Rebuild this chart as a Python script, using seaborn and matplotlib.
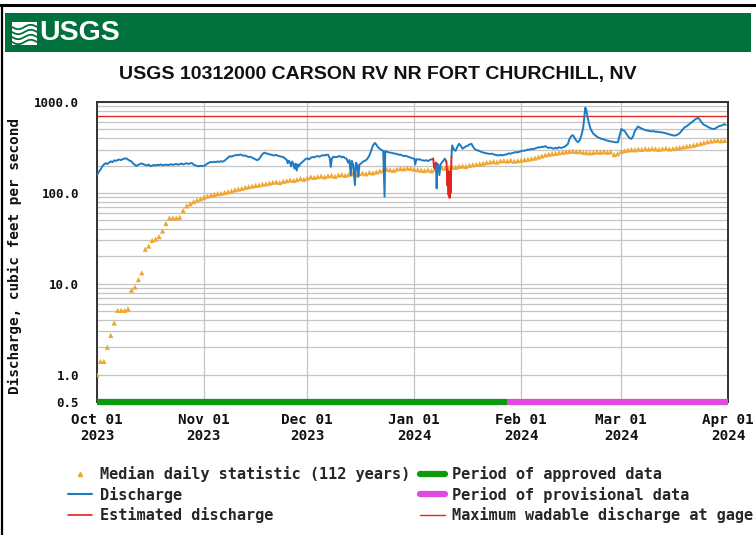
import numpy as np
import pandas as pd
import matplotlib
matplotlib.use("Agg")
import matplotlib.pyplot as plt
import matplotlib.dates as mdates
from matplotlib.lines import Line2D
from matplotlib.patches import Rectangle
from matplotlib.ticker import FixedLocator, NullFormatter
import seaborn as sns

# ---- data ----
start_date = "2023-10-01"
end_date = "2024-04-01"
station_title = "USGS 10312000 CARSON RV NR FORT CHURCHILL, NV"

# median daily statistic, one value per day from Oct 01
median_cfs = [
    # Oct
    1.0, 1.4, 1.4, 2.0, 2.7, 3.7, 5.1, 5.1, 5.1, 5.3,
    8.5, 9.2, 11.1, 13.2, 24, 26, 30, 31, 33, 38,
    46, 53, 53, 53, 54, 64, 72, 76, 80, 83, 86,
    # Nov
    89, 92, 94, 96, 98, 99, 101, 103, 105, 108,
    110, 112, 115, 117, 119, 121, 122, 125, 126, 128,
    131, 132, 130, 134, 136, 139, 137, 140, 144, 141,
    # Dec
    146, 150, 148, 151, 153, 150, 154, 156, 152, 157,
    159, 156, 160, 162, 158, 163, 165, 162, 168, 166,
    170, 174, 178, 182, 180, 177, 183, 186, 184, 188, 186,
    # Jan
    183, 180, 178, 176, 179, 175, 182, 186, 189, 187,
    190, 193, 191, 196, 198, 195, 201, 204, 206, 209,
    212, 216, 219, 222, 218, 225, 227, 224, 228, 223, 226,
    # Feb
    229, 232, 235, 238, 242, 248, 255, 262, 266, 270,
    272, 276, 280, 283, 286, 288, 284, 286, 280, 278,
    276, 279, 282, 280, 284, 281, 283, 264, 270,
    # Mar
    285, 292, 296, 300, 298, 303, 301, 306, 303, 308,
    305, 302, 306, 309, 304, 307, 312, 316, 320, 326,
    330, 335, 342, 350, 358, 366, 372, 376, 380, 374, 378,
]

# discharge (days after Oct 01, cfs)
discharge_day = [
    0.0, 0.5, 1.0, 1.5, 2.0, 2.5, 3.0, 3.5, 4.0, 4.5, 5.0, 5.5, 6.0, 6.5, 7.0, 7.5,
    8.0, 8.5, 9.0, 9.5, 10.0, 10.5, 11.0, 11.5, 12.0, 12.5, 13.0, 13.5, 14.0, 14.5,
    15.0, 15.5, 16.0, 16.5, 17.0, 17.5, 18.0, 18.5, 19.0, 19.5, 20.0, 20.5, 21.0,
    21.5, 22.0, 22.5, 23.0, 23.5, 24.0, 24.5, 25.0, 25.5, 26.0, 26.5, 27.0, 27.5,
    28.0, 28.5, 29.0, 29.5, 30.0, 30.5, 31.0, 31.5, 32.0, 32.5, 33.0, 33.5, 34.0,
    34.5, 35.0, 35.5, 36.0, 36.5, 37.0, 37.5, 38.0, 38.5, 39.0, 39.5, 40.0, 40.5,
    41.0, 41.5, 42.0, 42.5, 43.0, 43.5, 44.0, 44.5, 45.0, 45.5, 46.0, 46.5, 47.0,
    47.5, 48.0, 48.5, 49.0, 49.5, 50.0, 50.5, 51.0, 51.5, 52.0, 52.5, 53.0, 53.5,
    54.0, 54.5, 55.0, 55.3, 55.6, 56.0, 56.3, 56.6, 57.0, 57.3, 57.6, 57.9, 58.2,
    58.5, 59.0, 59.5, 60.0, 60.5, 61.0, 61.5, 62.0, 62.5, 63.0, 63.5, 64.0, 64.5,
    65.0, 65.5, 66.0, 66.5, 67.0, 67.5, 67.8, 68.1, 68.5, 69.0, 69.5, 70.0, 70.5,
    71.0, 71.5, 72.0, 72.4, 72.8, 73.2, 73.6, 73.9, 74.3, 74.8, 75.1, 75.5, 75.8,
    76.1, 76.5, 77.0, 77.5, 78.0, 78.5, 79.0, 79.5, 80.0, 80.6, 81.0, 81.5, 82.0,
    82.5, 83.0, 83.4, 83.6, 84.0, 84.5, 85.0, 85.5, 86.0, 86.5, 87.0, 87.5, 88.0,
    88.5, 89.0, 89.5, 90.0, 90.5, 91.0, 91.5, 92.0, 92.3, 92.6, 93.0, 93.5, 94.0,
    94.5, 95.0, 95.5, 96.0, 96.5, 97.0, 97.5,
    98.3, 98.5, 98.7, 99.0, 99.3, 99.6, 100.0, 100.5, 100.9, 101.2,
    102.8, 103.0, 103.5, 104.0, 104.5, 105.0, 105.5, 106.0, 106.5, 107.0, 107.5,
    108.0, 108.6, 109.0, 109.5, 110.0, 110.5, 111.0, 111.5, 112.0, 112.5, 113.0,
    113.5, 114.0, 114.5, 115.0, 115.5, 116.0, 116.5, 117.0, 117.5, 118.0, 118.5,
    119.0, 119.5, 120.0, 120.5, 121.0, 121.5, 122.0, 122.5, 123.0, 123.5, 124.0,
    124.5, 125.0, 125.5, 126.0, 126.5, 127.0, 127.5, 128.0, 128.5, 129.0, 129.5,
    130.0, 130.5, 131.0, 131.5, 132.0, 132.5, 133.0, 133.5, 134.0, 134.5, 135.0,
    135.5, 136.0, 136.6, 137.0, 137.5, 138.0, 138.5, 139.0, 139.5, 140.0, 140.5,
    141.0, 141.4, 141.6, 141.9, 142.2, 142.4, 142.8, 143.2, 143.6, 143.9, 144.5,
    145.0, 145.5, 146.3, 147.0, 147.5, 148.0, 148.5, 149.0, 149.5, 150.0, 150.5,
    151.1, 151.5, 152.1, 152.5, 153.0, 153.5, 154.0, 154.5, 155.0, 155.5, 156.0,
    156.9, 157.5, 158.0, 158.5, 159.0, 159.8, 160.5, 161.0, 161.5, 162.0, 162.5,
    163.0, 163.7, 164.5, 165.0, 165.5, 166.0, 166.5, 167.0, 167.5, 168.0, 168.5,
    169.0, 169.5, 170.0, 170.4, 171.0, 171.5, 172.0, 172.5, 173.0, 173.5, 174.0,
    174.3, 174.8, 175.3, 175.8, 176.2, 176.7, 177.2, 177.7, 178.2, 178.7, 179.1,
    179.6, 180.0, 180.5, 181.0, 181.5, 182.0, 182.3,
]
discharge_cfs = [
    157, 170, 180, 195, 205, 212, 208, 215, 222, 218, 228, 225, 230, 233, 229, 236,
    238, 240, 232, 226, 222, 210, 203, 198, 204, 208, 211, 206, 203, 200,
    205, 197, 199, 203, 200, 204, 202, 206, 201, 203, 205, 202, 204,
    207, 203, 206, 208, 204, 207, 210, 206, 209, 212, 208, 211, 213,
    205, 201, 198, 196, 199, 197, 198, 203, 210, 215, 219, 217, 220,
    218, 222, 219, 223, 221, 226, 235, 245, 254, 250, 256, 258, 262,
    259, 265, 261, 256, 258, 252, 248, 250, 244, 238, 233, 229, 236,
    252, 268, 277, 272, 270, 266, 263, 260, 258, 262, 256, 253, 250,
    248, 240, 232, 212, 226, 215, 196, 222, 205, 185, 210, 176, 206,
    195, 210, 218, 226, 236, 240, 234, 244, 248, 246, 252, 254, 250,
    256, 260, 258, 262, 263, 240, 193, 238, 250, 247, 248, 252, 254,
    246, 250, 240, 238, 215, 230, 157, 225, 205, 122, 215, 200, 150,
    205, 210, 218, 225, 228, 240, 259, 290, 330, 355, 340, 318, 306,
    296, 290, 91, 290, 284, 280, 277, 276, 272, 270, 268, 262, 264,
    258, 254, 256, 252, 248, 244, 240, 238, 205, 236, 232, 235, 230,
    228, 226, 229, 224, 230, 234, 238,
    215, 112, 210, 200, 157, 205, 215, 228, 238, 225,
    250, 333, 300, 290, 320, 347, 330, 306, 315, 325, 330,
    340, 347, 325, 305, 296, 293, 288, 282, 278, 275, 272,
    270, 268, 270, 266, 262, 260, 258, 262, 259, 261, 264,
    268, 272, 270, 275, 278, 281, 279, 284, 288, 292, 290,
    296, 300, 298, 306, 302, 308, 312, 318, 316, 322, 320,
    327, 318, 312, 316, 310, 306, 314, 308, 318, 312, 316,
    320, 330, 347, 390, 420, 432, 405, 375, 361, 380, 430,
    520, 720, 867, 820, 700, 649, 560, 500, 470, 450, 430,
    415, 405, 393, 388, 380, 376, 372, 368, 366, 362, 360,
    361, 420, 506, 490, 480, 450, 420, 400, 393, 420, 480,
    538, 520, 510, 500, 490, 484, 480, 475, 478, 470, 472,
    466, 464, 458, 452, 446, 440, 436, 430, 427, 432, 440,
    455, 480, 505, 527, 540, 560, 580, 600, 620, 645, 660,
    675, 640, 600, 570, 555, 548, 530, 520, 510, 505, 506,
    520, 530, 545, 548, 560, 570, 560,
]

# estimated discharge pieces
estimated_day = [97.5, 97.7, 97.9, 98.1, 98.3,
                 101.2, 101.35, 101.5, 101.65, 101.8, 101.95, 102.1, 102.25, 102.4, 102.55, 102.7, 102.8]
estimated_cfs = [238, 200, 185, 205, 215,
                 225, 220, 172, 120, 175, 95, 170, 88, 172, 100, 180, 250]
estimated_run = [1, 1, 1, 1, 1,
                 2, 2, 2, 2, 2, 2, 2, 2, 2, 2, 2, 2]

approved_period = ["2023-10-01", "2024-01-28"]
provisional_period = ["2024-01-28", "2024-04-01"]
max_wadable_cfs = 700

y_ticks = [0.5, 1, 10, 100, 1000]
y_tick_labels = ["0.5", "1.0", "10.0", "100.0", "1000.0"]

legend_labels = ["Median daily statistic (112 years)", "Discharge", "Estimated discharge",
                 "Period of approved data", "Period of provisional data",
                 "Maximum wadable discharge at gage"]

# ---- frames ----
t0 = pd.Timestamp(start_date)
median_df = pd.DataFrame({
    "date": pd.date_range(start_date, periods=len(median_cfs), freq="D"),
    "cfs": median_cfs,
})

est_df = pd.DataFrame({"day": estimated_day, "cfs": estimated_cfs, "run": estimated_run})
est_df["date"] = t0 + pd.to_timedelta(est_df["day"], unit="D")

# break the blue line where the estimated pieces sit
gap_days = est_df.groupby("run")["day"].mean().values
dis_df = pd.DataFrame({"day": discharge_day, "cfs": discharge_cfs})
dis_df["run"] = np.digitize(dis_df["day"], gap_days)
dis_df["date"] = t0 + pd.to_timedelta(dis_df["day"], unit="D")

# ---- style ----
sns.set_theme(style="white")
mono = ["DejaVu Sans Mono"]
plt.rcParams["font.family"] = mono

blue = "#1f7bc1"
orange = "#f0a630"
red = "#e4241f"
green = "#0c9a0c"
magenta = "#e048e0"
grid_c = "#c4c4c4"

fig = plt.figure(figsize=(7.56, 5.35), dpi=100)
ax = fig.add_axes([97 / 756, 1 - 402 / 535, 631 / 756, 300 / 535])

# header: page rule, green banner, logo
fig.add_artist(Line2D([0, 1], [1 - 5 / 535] * 2, color="black", lw=2.2, transform=fig.transFigure))
fig.add_artist(Line2D([1.5 / 756] * 2, [0, 1 - 5 / 535], color="black", lw=1.6, transform=fig.transFigure))
fig.add_artist(Rectangle((5 / 756, 1 - 52 / 535), 746 / 756, 39 / 535,
                         facecolor="#00703c", edgecolor="none", transform=fig.transFigure))
fig.add_artist(Rectangle((12 / 756, 1 - 45 / 535), 25 / 756, 23 / 535,
                         facecolor="white", edgecolor="none", transform=fig.transFigure))
wx = np.linspace(12, 37, 30)
for k in range(4):
    wy = 27 + k * 5 + 2.2 * np.sin((wx - 12) / 25 * 2 * np.pi)
    fig.add_artist(Line2D(wx / 756, 1 - wy / 535, color="#00703c", lw=1.3,
                          transform=fig.transFigure))
fig.text(39 / 756, 1 - 33.5 / 535, "USGS", color="white", fontsize=20.5, fontweight="bold",
         family=["Liberation Sans"], va="center", ha="left")

fig.text(378 / 756, 1 - 74 / 535, station_title, fontsize=14, fontweight="bold",
         family=["Liberation Sans"], ha="center", va="center", color="#111111")

# ---- series ----
sns.lineplot(data=dis_df, x="date", y="cfs", units="run", estimator=None, sort=False,
             color=blue, lw=1.4, ax=ax, zorder=4)
sns.lineplot(data=est_df, x="date", y="cfs", units="run", estimator=None, sort=False,
             color=red, lw=1.4, ax=ax, zorder=5)
sns.scatterplot(data=median_df, x="date", y="cfs", marker="^", s=14, color=orange,
                edgecolor="none", ax=ax, zorder=3)
ax.axhline(max_wadable_cfs, color=red, lw=0.9, zorder=2)

ax.set_yscale("log")
ax.set_ylim(0.5, 1000)
ax.set_xlim(pd.Timestamp(start_date), pd.Timestamp(end_date))

# approval periods along the bottom
ax.plot(pd.to_datetime(approved_period), [0.5, 0.5], color=green, lw=4.5,
        solid_capstyle="butt", clip_on=False, zorder=6)
ax.plot(pd.to_datetime(provisional_period), [0.5, 0.5], color=magenta, lw=4.5,
        solid_capstyle="butt", clip_on=False, zorder=6)

# ---- axes ----
ax.set_yticks(y_ticks)
ax.set_yticklabels(y_tick_labels)
minor_vals = [m * 10.0 ** e for e in range(0, 3) for m in range(2, 10)]
ax.yaxis.set_minor_locator(FixedLocator(minor_vals))
ax.yaxis.set_minor_formatter(NullFormatter())
ax.xaxis.set_major_locator(mdates.MonthLocator())
ax.xaxis.set_major_formatter(mdates.DateFormatter("%b %d\n%Y"))

ax.grid(True, which="both", axis="y", color=grid_c, lw=0.9)
ax.grid(True, which="major", axis="x", color=grid_c, lw=0.9)
ax.set_axisbelow(True)

ax.tick_params(axis="x", length=0, pad=8, labelsize=10.3)
ax.tick_params(axis="y", which="both", length=0, pad=13, labelsize=9)
for lab in ax.get_xticklabels() + ax.get_yticklabels():
    lab.set_fontweight("bold")
    lab.set_color("#111111")

for side in ["left", "right", "top", "bottom"]:
    ax.spines[side].set_color("#333333")
    ax.spines[side].set_linewidth(1.4)

ax.set_xlabel("")
ax.set_ylabel("")
fig.text(15 / 756, 1 - 256 / 535, "Discharge, cubic feet per second", rotation=90,
         fontsize=10.4, fontweight="bold", ha="center", va="center", color="#111111")

# ---- legend ----
handles = [
    Line2D([], [], marker="^", ls="none", color=orange, markersize=3),
    Line2D([], [], color=blue, lw=1.5),
    Line2D([], [], color=red, lw=1.2),
    Line2D([], [], color=green, lw=4.5),
    Line2D([], [], color=magenta, lw=4.5),
    Line2D([], [], color=red, lw=1.0),
]
leg = fig.legend(handles, legend_labels, ncol=2, loc="upper left",
                 bbox_to_anchor=(68 / 756, 1 - 466 / 535), frameon=False,
                 prop={"family": mono, "weight": "bold", "size": 11},
                 handlelength=1.6, handletextpad=0.5, columnspacing=0.65,
                 labelspacing=0.3, borderaxespad=0, borderpad=0)

fig.savefig("out.png", dpi=100)
